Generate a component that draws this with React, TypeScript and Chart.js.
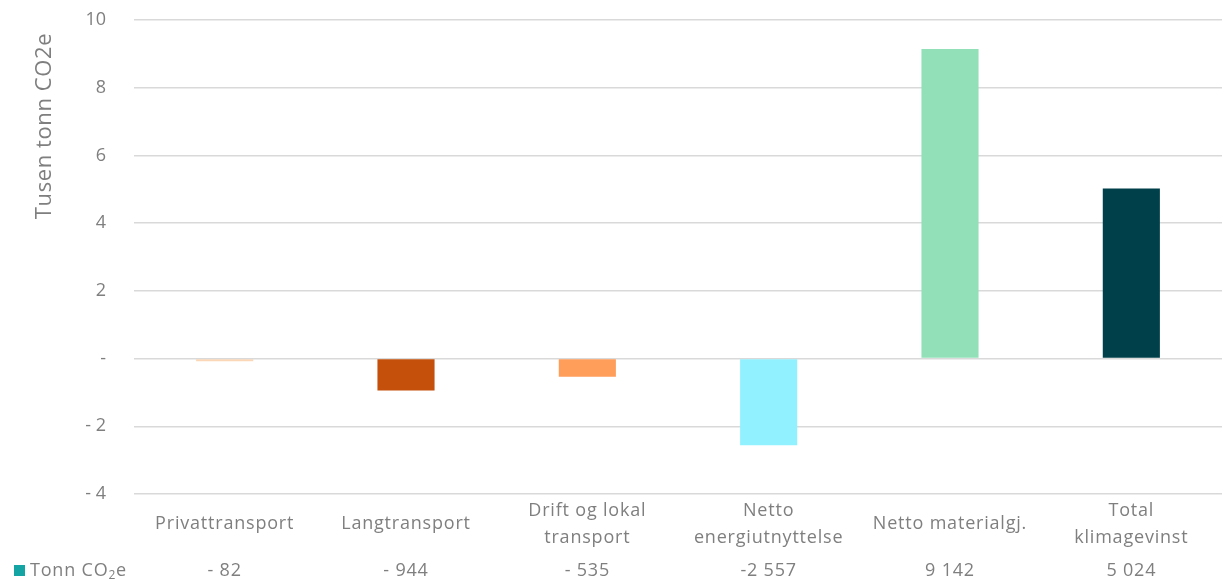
import React, { useEffect, useRef } from "react";
import { Chart, registerables } from "chart.js";

Chart.register(...registerables);

const categories: string[][] = [
  ["Privattransport"],
  ["Langtransport"],
  ["Drift og lokal", "transport"],
  ["Netto", "energiutnyttelse"],
  ["Netto materialgj."],
  ["Total", "klimagevinst"],
];
const values: number[] = [-0.082, -0.944, -0.535, -2.557, 9.142, 5.024];
const tableValues: string[] = ["- 82", "- 944", "- 535", "-2 557", "9 142", "5 024"];
const barColors: string[] = ["#FBD7B8", "#C4500B", "#FF9E5B", "#92F1FF", "#91E0B8", "#00404A"];
const yTitle = "Tusen tonn CO2e";
const seriesName = "Tonn CO";

const FONT = "'Open Sans', sans-serif";
const GREY = "#7f7f7f";

const tablePlugin = {
  id: "tablePlugin",
  afterDraw(chart: any) {
    const ctx = chart.ctx;
    const xs = chart.scales.x;
    ctx.save();
    ctx.fillStyle = GREY;
    ctx.font = `18px ${FONT}`;
    ctx.letterSpacing = "0.8px";
    ctx.textAlign = "center";
    ctx.textBaseline = "middle";
    categories.forEach((lines, i) => {
      const x = xs.getPixelForValue(i);
      if (lines.length === 1) {
        ctx.fillText(lines[0], x, 524);
      } else {
        ctx.fillText(lines[0], x, 511);
        ctx.fillText(lines[1], x, 538);
      }
      ctx.fillText(tableValues[i], x, 571);
    });
    // legend
    ctx.fillStyle = "#14A4A4";
    ctx.fillRect(14, 565, 11, 11);
    ctx.fillStyle = GREY;
    ctx.textAlign = "left";
    ctx.font = `18px ${FONT}`;
    ctx.fillText(seriesName, 30, 571);
    const w = ctx.measureText(seriesName).width;
    ctx.font = `12px ${FONT}`;
    ctx.fillText("2", 30 + w, 576);
    const w2 = ctx.measureText("2").width;
    ctx.font = `18px ${FONT}`;
    ctx.fillText("e", 30 + w + w2, 571);
    // y title
    ctx.translate(45, 126);
    ctx.rotate(-Math.PI / 2);
    ctx.textAlign = "center";
    ctx.font = `22px ${FONT}`;
    ctx.letterSpacing = "0.6px";
    ctx.fillText(yTitle, 0, 0);
    ctx.restore();
  },
};

export default function App() {
  const ref = useRef<HTMLCanvasElement>(null);
  useEffect(() => {
    document.body.style.margin = "0";
    const chart = new Chart(ref.current!, {
      type: "bar",
      data: {
        labels: categories.map((c) => c.join(" ")),
        datasets: [
          {
            label: "Tonn CO2e",
            data: values,
            backgroundColor: barColors,
            barPercentage: 0.315,
            categoryPercentage: 1,
          },
        ],
      },
      options: {
        animation: false,
        responsive: false,
        maintainAspectRatio: false,
        layout: { padding: { left: 0, top: 20, right: 4, bottom: 86 } },
        plugins: { legend: { display: false }, tooltip: { enabled: false } },
        scales: {
          x: {
            ticks: { display: false },
            grid: { display: false },
            border: { display: false },
            afterFit(scale: any) {
              scale.height = 0;
              scale.paddingLeft = 0;
              scale.paddingRight = 0;
            },
          },
          y: {
            min: -4,
            max: 10,
            afterFit(scale: any) {
              scale.width = 134;
              scale.paddingTop = 0;
              scale.paddingBottom = 0;
            },
            ticks: {
              stepSize: 2,
              padding: 28,
              color: GREY,
              font: { family: FONT, size: 18 },
              callback: (v: any) => {
                const n = Number(v);
                if (n === 0) return "-";
                if (n < 0) return "- " + Math.abs(n);
                return String(n);
              },
            },
            grid: { color: "#d9d9d9", lineWidth: 1.5, drawTicks: false },
            border: { display: false },
          },
        },
      },
      plugins: [tablePlugin],
    });
    return () => chart.destroy();
  }, []);
  return (
    <div style={{ position: "absolute", left: 0, top: 0, width: 1226, height: 580 }}>
      <canvas ref={ref} width={1226} height={580} style={{ width: 1226, height: 580 }} />
    </div>
  );
}
